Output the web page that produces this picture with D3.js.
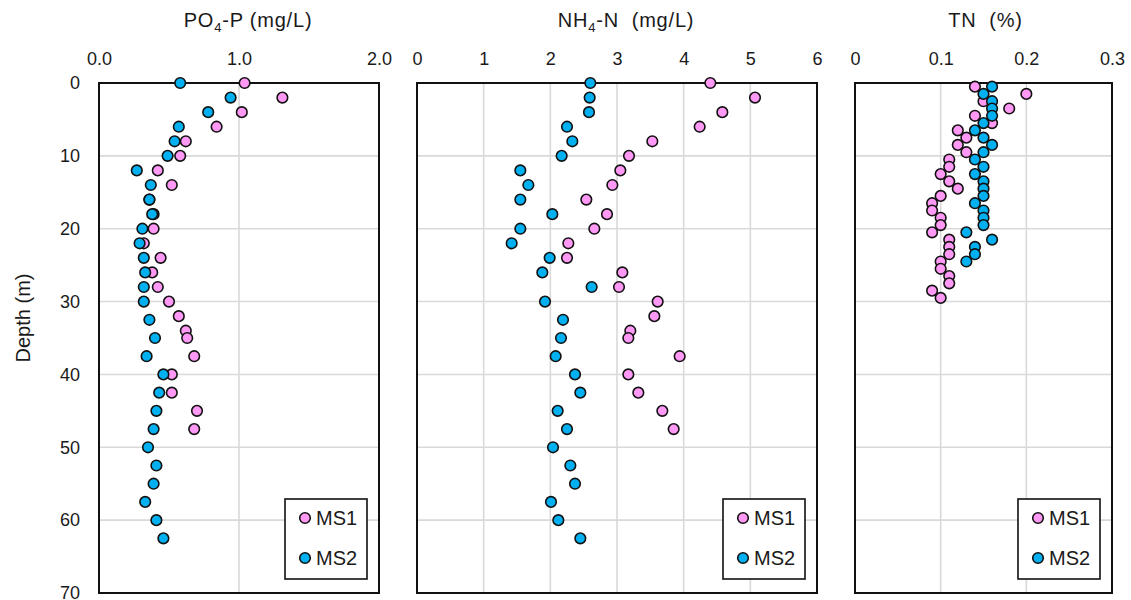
<!DOCTYPE html>
<html>
<head>
<meta charset="utf-8">
<script src="https://cdn.jsdelivr.net/npm/d3@7"></script>
<style>
  body { margin: 0; background: #fff; }
  svg text { font-family: "Liberation Sans", Arial, sans-serif; fill: #1a1a1a; }
</style>
</head>
<body>
<div id="chart"></div>
<script>
// depths (m)
var depthMS1 = [0, 2, 4, 6, 8, 10, 12, 14, 16, 18, 20, 22, 24, 26, 28, 30, 32, 34, 35, 37.5, 40, 42.5, 45, 47.5];
var depthMS2 = [0, 2, 4, 6, 8, 10, 12, 14, 16, 18, 20, 22, 24, 26, 28, 30, 32.5, 35, 37.5, 40, 42.5, 45, 47.5, 50, 52.5, 55, 57.5, 60, 62.5];
var depthTN1 = [0.5, 1.5, 2.5, 3.5, 4.5, 5.5, 6.5, 7.5, 8.5, 9.5, 10.5, 11.5, 12.5, 13.5, 14.5, 15.5, 16.5, 17.5, 18.5, 19.5, 20.5, 21.5, 22.5, 23.5, 24.5, 25.5, 26.5, 27.5, 28.5, 29.5];
var depthTN2 = [0.5, 1.5, 2.5, 3.5, 4.5, 5.5, 6.5, 7.5, 8.5, 9.5, 10.5, 11.5, 12.5, 13.5, 14.5, 15.5, 16.5, 17.5, 18.5, 19.5, 20.5, 21.5, 22.5, 23.5, 24.5];

// PO4-P (mg/L)
var po4MS1 = [1.04, 1.31, 1.02, 0.84, 0.62, 0.58, 0.42, 0.52, 0.36, 0.39, 0.39, 0.32, 0.44, 0.38, 0.42, 0.50, 0.57, 0.62, 0.63, 0.68, 0.52, 0.52, 0.70, 0.68];
var po4MS2 = [0.58, 0.94, 0.78, 0.57, 0.54, 0.49, 0.27, 0.37, 0.36, 0.38, 0.31, 0.29, 0.32, 0.33, 0.32, 0.32, 0.36, 0.40, 0.34, 0.46, 0.43, 0.41, 0.39, 0.35, 0.41, 0.39, 0.33, 0.41, 0.46];

// NH4-N (mg/L)
var nh4MS1 = [4.40, 5.07, 4.58, 4.24, 3.53, 3.18, 3.05, 2.93, 2.54, 2.85, 2.66, 2.27, 2.25, 3.08, 3.03, 3.61, 3.56, 3.20, 3.17, 3.94, 3.17, 3.32, 3.68, 3.85];
var nh4MS2 = [2.60, 2.59, 2.58, 2.25, 2.33, 2.17, 1.55, 1.67, 1.55, 2.03, 1.55, 1.42, 1.99, 1.88, 2.62, 1.92, 2.19, 2.16, 2.08, 2.37, 2.45, 2.11, 2.25, 2.04, 2.30, 2.37, 2.01, 2.12, 2.45];

// TN (%)
var tnMS1 = [0.14, 0.20, 0.15, 0.18, 0.14, 0.16, 0.12, 0.13, 0.12, 0.13, 0.11, 0.11, 0.10, 0.11, 0.12, 0.10, 0.09, 0.09, 0.10, 0.10, 0.09, 0.11, 0.11, 0.11, 0.10, 0.10, 0.11, 0.11, 0.09, 0.10];
var tnMS2 = [0.16, 0.15, 0.16, 0.16, 0.16, 0.15, 0.14, 0.15, 0.16, 0.15, 0.14, 0.15, 0.14, 0.15, 0.15, 0.15, 0.14, 0.15, 0.15, 0.15, 0.13, 0.16, 0.14, 0.14, 0.13];

var depthTicks = [0, 10, 20, 30, 40, 50, 60, 70];
var seriesNames = ["MS1", "MS2"];
var colors = { MS1: "#ff99f5", MS2: "#00b0f0" };

var W = 1131, H = 600;
var plotTop = 83, plotBottom = 593;

var panels = [
  { title: ["PO", "4", "-P (mg/L)"], left: 99, right: 379, domain: [0, 2], ticks: [0, 1, 2], fmt: d3.format(".1f"),
    s1: po4MS1, d1: depthMS1, s2: po4MS2, d2: depthMS2, yAxis: true },
  { title: ["NH", "4", "-N\u00a0\u00a0(mg/L)"], left: 417, right: 817, domain: [0, 6], ticks: [0, 1, 2, 3, 4, 5, 6], fmt: d3.format("d"),
    s1: nh4MS1, d1: depthMS1, s2: nh4MS2, d2: depthMS2 },
  { title: ["TN\u00a0\u00a0(%)"], left: 855, right: 1112, domain: [0, 0.3], ticks: [0, 0.1, 0.2, 0.3], fmt: function(d) { return d === 0 ? "0" : d3.format(".1f")(d); },
    s1: tnMS1, d1: depthTN1, s2: tnMS2, d2: depthTN2 }
];

var svg = d3.select("#chart").append("svg")
  .attr("width", W)
  .attr("height", H);

var y = d3.scaleLinear().domain([0, 70]).range([plotTop, plotBottom]);

panels.forEach(function(p) {
  var x = d3.scaleLinear().domain(p.domain).range([p.left, p.right]);
  var g = svg.append("g");

  // gridlines
  g.selectAll(".vgrid")
    .data(p.ticks.slice(1, -1))
    .enter().append("line")
    .attr("x1", function(d) { return x(d); })
    .attr("x2", function(d) { return x(d); })
    .attr("y1", plotTop).attr("y2", plotBottom)
    .attr("stroke", "#d9d9d9").attr("stroke-width", 1.6);

  g.selectAll(".hgrid")
    .data(depthTicks.slice(1, -1))
    .enter().append("line")
    .attr("x1", p.left).attr("x2", p.right)
    .attr("y1", function(d) { return y(d); })
    .attr("y2", function(d) { return y(d); })
    .attr("stroke", "#d9d9d9").attr("stroke-width", 1.6);

  // frame
  g.append("rect")
    .attr("x", p.left).attr("y", plotTop)
    .attr("width", p.right - p.left).attr("height", plotBottom - plotTop)
    .attr("fill", "none").attr("stroke", "#111").attr("stroke-width", 2);

  // top axis
  var xAxis = d3.axisTop(x).tickValues(p.ticks).tickFormat(p.fmt).tickSize(0).tickPadding(0);
  var ax = g.append("g")
    .attr("transform", "translate(0," + 65 + ")")
    .call(xAxis);
  ax.select(".domain").remove();
  ax.selectAll("text").style("font-size", "18px").attr("fill", "#1a1a1a").attr("dy", 0);

  // title
  var t = g.append("text")
    .attr("x", (p.left + p.right) / 2 + (p.title.length > 1 ? 9 : 2))
    .attr("y", 27)
    .attr("text-anchor", "middle")
    .style("font-size", "20px")
    .style("letter-spacing", "0.8px");
  if (p.title.length > 1) {
    t.append("tspan").text(p.title[0]);
    t.append("tspan").attr("dy", 5).style("font-size", "13px").text(p.title[1]);
    t.append("tspan").attr("dy", -5).text(p.title[2]);
  } else {
    t.text(p.title[0]);
  }

  // y axis on first panel
  if (p.yAxis) {
    var yAxis = d3.axisLeft(y).tickValues(depthTicks).tickSize(0).tickPadding(0);
    var ay = g.append("g")
      .attr("transform", "translate(80,0)")
      .call(yAxis);
    ay.select(".domain").remove();
    ay.selectAll("text").style("font-size", "18px").attr("fill", "#1a1a1a");

    svg.append("text")
      .attr("transform", "translate(30,318) rotate(-90)")
      .attr("text-anchor", "middle")
      .style("font-size", "20px")
      .text("Depth (m)");
  }

  // points: MS1 then MS2 on top
  var sets = [
    { name: "MS1", vals: p.s1, depths: p.d1 },
    { name: "MS2", vals: p.s2, depths: p.d2 }
  ];
  sets.forEach(function(s) {
    g.selectAll(".pt-" + s.name)
      .data(s.vals)
      .enter().append("circle")
      .attr("cx", function(d) { return x(d); })
      .attr("cy", function(d, i) { return y(s.depths[i]); })
      .attr("r", 5.3)
      .attr("fill", colors[s.name])
      .attr("stroke", "#111")
      .attr("stroke-width", 1.6);
  });

  // legend
  var lw = 82, lh = 80;
  var lx = p.right - 12 - lw, ly = plotBottom - 14 - lh;
  var lg = g.append("g").attr("transform", "translate(" + lx + "," + ly + ")");
  lg.append("rect")
    .attr("width", lw).attr("height", lh)
    .attr("fill", "#fff").attr("stroke", "#111").attr("stroke-width", 1.6);
  var item = lg.selectAll(".legend")
    .data(seriesNames)
    .enter().append("g")
    .attr("transform", function(d, i) { return "translate(0," + (19 + i * 40) + ")"; });
  item.append("circle")
    .attr("cx", 20).attr("cy", 0).attr("r", 5.3)
    .attr("fill", function(d) { return colors[d]; })
    .attr("stroke", "#111").attr("stroke-width", 1.6);
  item.append("text")
    .attr("x", 31).attr("y", 0).attr("dy", "0.36em")
    .style("font-size", "20px")
    .text(function(d) { return d; });
});
</script>
</body>
</html>
